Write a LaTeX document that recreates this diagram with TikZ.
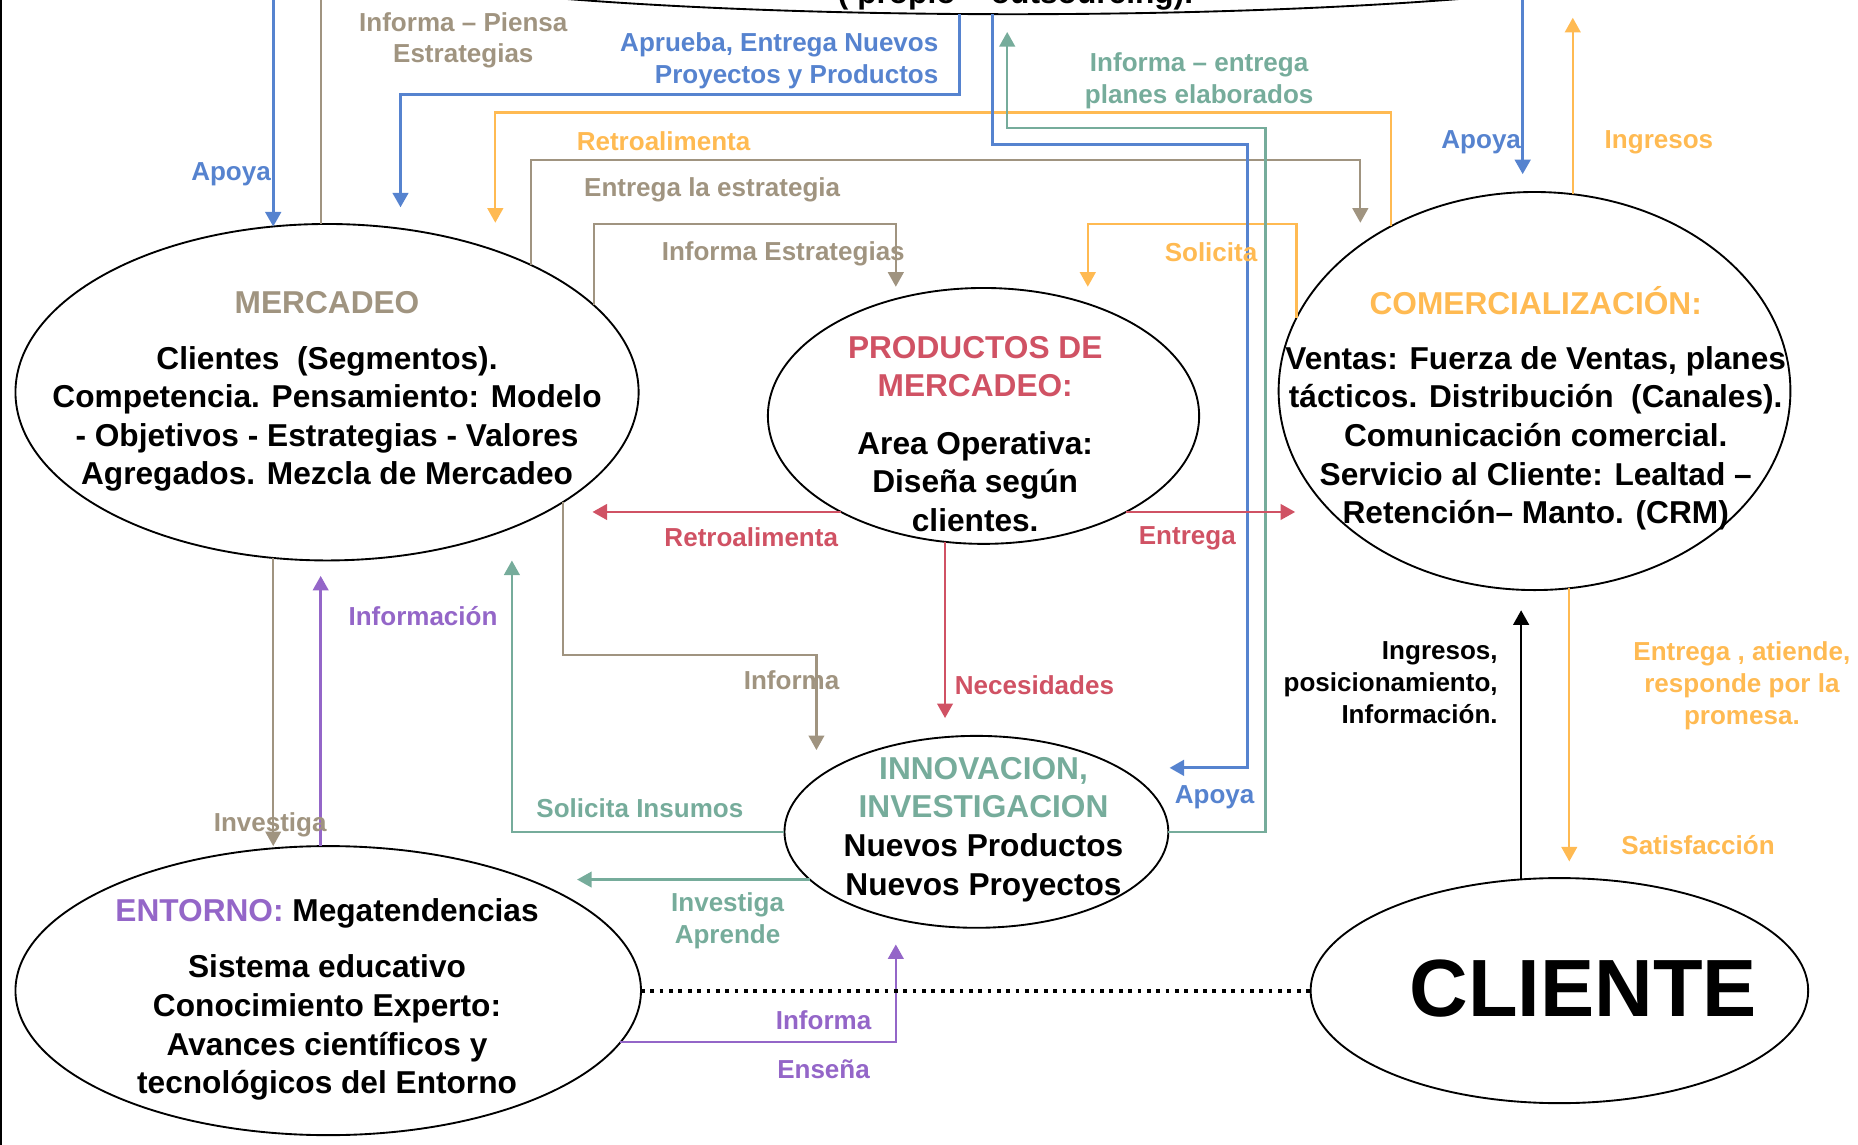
\documentclass[tikz,border=0pt]{standalone}
\usepackage{fontspec}
\setmainfont{Liberation Sans}
\usetikzlibrary{arrows.meta, positioning, shapes.geometric}
\definecolor{myblue}{RGB}{86,131,207}
\definecolor{mytan}{RGB}{160,148,128}
\definecolor{myorange}{RGB}{255,186,82}
\definecolor{myteal}{RGB}{118,172,155}
\definecolor{myred}{RGB}{208,82,100}
\definecolor{mypurple}{RGB}{148,102,200}
\tikzset{
  oval/.style={ellipse, draw=black, line width=0.9pt, inner sep=0pt, outer sep=0pt},
  body/.style={align=center, inner sep=0pt, font=\fontsize{15.2}{18.5}\selectfont\bfseries},
  lbl/.style={align=center, inner sep=1pt, font=\fontsize{12.5}{15.3}\selectfont\bfseries},
  tip/.style={-{Triangle[length=7pt,width=7.5pt]}},
  bluearrow/.style={tip, line width=1.4pt, color=myblue},
  tanarrow/.style={tip, line width=1.1pt, color=mytan},
  tanline/.style={line width=1.1pt, color=mytan},
  orangearrow/.style={tip, line width=1.1pt, color=myorange},
  tealarrow/.style={tip, line width=1.1pt, color=myteal},
  redarrow/.style={tip, line width=1.1pt, color=myred},
  purparrow/.style={tip, line width=1.2pt, color=mypurple},
  blackarrow/.style={tip, line width=1.1pt, color=black},
  dotline/.style={line width=1.8pt, dash pattern=on 1.8pt off 2.7pt}
}

\begin{document}
\begin{tikzpicture}[x=0.02cm, y=-0.02cm, font=\bfseries]
  \useasboundingbox (0,0) rectangle (1568,966);
  \clip (0,0) rectangle (1568,966);
  \draw[line width=0.9pt] (0.8,0) -- (0.8,966);

  % ovals
  \node[oval, minimum width=24cm, minimum height=2.32cm] (ext) at (855,-46) {};
  \node[oval, minimum width=10.52cm, minimum height=5.68cm] (mer) at (276,331) {};
  \node[oval, minimum width=7.28cm, minimum height=4.32cm] (prod) at (830,351) {};
  \node[oval, minimum width=8.64cm, minimum height=6.72cm] (com) at (1295,330) {};
  \node[oval, minimum width=6.48cm, minimum height=3.24cm] (inn) at (824,702) {};
  \node[oval, minimum width=10.56cm, minimum height=4.88cm] (ent) at (277,836) {};
  \node[oval, minimum width=8.4cm, minimum height=3.8cm] (cli) at (1316,836) {};

  % texts inside
  \node[body, anchor=base] (exttxt) at (857,3) {( propio – outsourcing).};
  \node[body] (mertxt) at (276,330.5) {\textcolor{mytan}{MERCADEO}\\[0.28cm]
    Clientes\ \ (Segmentos).\\ Competencia. Pensamiento: Modelo\\
    - Objetivos - Estrategias - Valores\\ Agregados. Mezcla de Mercadeo};
  \node[body] (prodtxt) at (823,366) {\textcolor{myred}{PRODUCTOS DE}\\
    \textcolor{myred}{MERCADEO:}\\[0.32cm] Area Operativa:\\ Diseña según\\ clientes.};
  \node[body] (comtxt) at (1296,344.5) {\textcolor{myorange}{COMERCIALIZACIÓN:}\\[0.28cm]
    Ventas: Fuerza de Ventas, planes\\ tácticos. Distribución\ \ (Canales).\\
    Comunicación comercial.\\ Servicio al Cliente: Lealtad –\\ Retención– Manto. (CRM)};
  \node[body] (inntxt) at (830,700) {\textcolor{myteal}{INNOVACION,}\\
    \textcolor{myteal}{INVESTIGACION}\\ Nuevos Productos\\ Nuevos Proyectos};
  \node[body] (enttxt) at (276,843.5) {\textcolor{mypurple}{ENTORNO:} Megatendencias\\[0.3cm]
    Sistema educativo\\ Conocimiento Experto:\\ Avances científicos y\\ tecnológicos del Entorno};
  \node[font=\fontsize{39}{45}\selectfont\bfseries, inner sep=0pt] (clitxt) at (1336,834) {CLIENTE};

  % free ends and bends
  \coordinate (tp) at (0,0);
  \coordinate (bAp) at (338,80);     \coordinate (tipAp) at (338,175);
  \coordinate (oRet) at (418,95);    \coordinate (tipRet) at (418,188);
  \coordinate (lEst) at (1148,135);  \coordinate (tipEst) at (1148,188);
  \coordinate (lIE) at (756,189);    \coordinate (tipIE) at (756,242);
  \coordinate (lSol) at (918,189);   \coordinate (tipSol) at (918,242);
  \coordinate (lPl) at (1068,108);   \coordinate (tipPl) at (850,27);
  \coordinate (lAI) at (1053,122);   \coordinate (tipAI) at (987,648);
  \coordinate (tipAR) at (1285,147);
  \coordinate (tipIng) at (1326,15);
  \coordinate (tipRR) at (500,432);
  \coordinate (tipEnt) at (1093,432);
  \coordinate (tipNec) at (797,606);
  \coordinate (lInf) at (689,553);   \coordinate (tipInf) at (689,633);
  \coordinate (tipInfo) at (270,486);
  \coordinate (tipEns) at (756,797);
  \coordinate (tipSI) at (432,473);
  \coordinate (tipIA) at (487,742);
  \coordinate (tipCI) at (1283,515);
  \coordinate (tipSat) at (1323,727);

  % connectors
  \draw[bluearrow] (mer.108 |- tp) -- (mer.108);
  \draw[tanline] (mer.92) -- (mer.92 |- tp);
  \draw[bluearrow] (ext.232) |- (bAp) -- (tipAp);
  \draw[orangearrow] (com.131) |- (oRet) -- (tipRet);
  \draw[tanarrow] (mer.32) |- (lEst) -- (tipEst);
  \draw[tanarrow] (mer.18) |- (lIE) -- (tipIE);
  \draw[orangearrow] (com.163) |- (lSol) -- (tipSol);
  \draw[tealarrow] (inn.east) -| (lPl) -| (tipPl);
  \draw[bluearrow] (ext.253) |- (lAI) |- (tipAI);
  \draw[bluearrow] (tipAR |- tp) -- (tipAR);
  \draw[orangearrow] (com.79) -- (com.79 |- tipIng);
  \draw[redarrow] (prod.214) -- (prod.214 -| tipRR);
  \draw[redarrow] (prod.-34) -- (prod.-34 -| tipEnt);
  \draw[redarrow] (prod.253) -- (prod.253 |- tipNec);
  \draw[tanarrow] (mer.-25) |- (lInf) -- (tipInf);
  \draw[tanarrow] (mer.252) -- (mer.252 |- ent.north);
  \draw[purparrow] (ent.93) -- (ent.93 |- tipInfo);
  \draw[purparrow] (ent.-10) -| (tipEns);
  \draw[tealarrow] (inn.west) -| (tipSI);
  \draw[tealarrow] (inn.196) -- (inn.196 -| tipIA);
  \draw[dotline] (ent.east) -- (cli.west);
  \draw[blackarrow] (cli.109) -- (cli.109 |- tipCI);
  \draw[orangearrow] (com.280) -- (com.280 |- tipSat);

  % labels
  \node[lbl, color=mytan] (lPiensa) at (391,34) {Informa – Piensa\\ Estrategias};
  \node[lbl, color=myblue, align=right, anchor=east] (lAprueba) at (794,51) {Aprueba, Entrega Nuevos\\ Proyectos y Productos};
  \node[lbl, color=myblue] (lApoyaL) at (195,147) {Apoya};
  \node[lbl, color=myorange] (lRetro) at (560,119) {Retroalimenta};
  \node[lbl, color=mytan] (lEntEst) at (601,160) {Entrega la estrategia};
  \node[lbl, color=mytan] (lInfEst) at (661,214) {Informa Estrategias};
  \node[lbl, color=myorange] (lSolicita) at (1022,213) {Solicita};
  \node[lbl, color=myteal] (lPlanes) at (1012,68) {Informa – entrega\\ planes elaborados};
  \node[lbl, color=myblue] (lApoyaR) at (1250,120) {Apoya};
  \node[lbl, color=myorange] (lIngresos) at (1400,120) {Ingresos};
  \node[lbl, color=myred] (lRetroR) at (634,453) {Retroalimenta};
  \node[lbl, color=myred] (lEntrega) at (1002,454) {Entrega};
  \node[lbl, color=mypurple] (lInformacion) at (357,520) {Información};
  \node[lbl, color=mytan] (lInforma) at (668,574) {Informa};
  \node[lbl, color=myred] (lNecesidades) at (873,578) {Necesidades};
  \node[lbl, align=right, anchor=east] (lCliIng) at (1266,576) {Ingresos,\\ posicionamiento,\\ Información.};
  \node[lbl, color=myorange] (lPromesa) at (1470,579) {Entrega , atiende,\\ responde por la\\ promesa.};
  \node[lbl, color=myblue] (lApoyaI) at (1025,673) {Apoya};
  \node[lbl, color=mytan] (lInvestiga) at (228,696) {Investiga};
  \node[lbl, color=myteal] (lInsumos) at (540,682) {Solicita Insumos};
  \node[lbl, color=myorange] (lSatisf) at (1433,713) {Satisfacción};
  \node[lbl, color=myteal] (lAprende) at (614,777) {Investiga\\ Aprende};
  \node[lbl, color=mypurple] (lInfP) at (695,861) {Informa};
  \node[lbl, color=mypurple] (lEnsena) at (695,902) {Enseña};
\end{tikzpicture}
\end{document}
